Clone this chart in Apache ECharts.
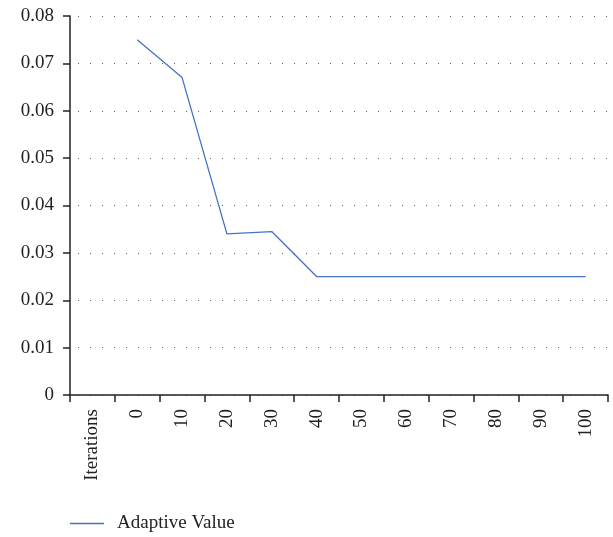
<!DOCTYPE html>
<html>
<head>
<meta charset="utf-8">
<script src="https://cdn.jsdelivr.net/npm/echarts@6/dist/echarts.min.js"></script>
<style>
  html, body { margin: 0; padding: 0; background: #fff; }
  #chart { width: 613px; height: 537px; }
</style>
</head>
<body>
<div id="chart"></div>
<script>
const categories = ['Iterations', '0', '10', '20', '30', '40', '50', '60', '70', '80', '90', '100'];
const adaptiveValue = [null, 0.075, 0.067, 0.034, 0.0345, 0.025, 0.025, 0.025, 0.025, 0.025, 0.025, 0.025];

const font = 'Liberation Serif';
const chart = echarts.init(document.getElementById('chart'), null, { renderer: 'canvas' });
const option = {
  animation: false,
  grid: { left: 70, right: 5, top: 16, bottom: 142, containLabel: false },
  legend: {
    left: 65,
    top: 509,
    icon: 'rect',
    itemWidth: 34,
    itemHeight: 1.5,
    itemGap: 10,
    textStyle: { fontFamily: font, fontSize: 19, color: '#222', padding: [0, 0, 0, 8] },
    data: ['Adaptive Value']
  },
  xAxis: {
    type: 'category',
    data: categories,
    boundaryGap: true,
    axisLine: { lineStyle: { color: '#222', width: 1.5 } },
    axisTick: { show: true, length: 7, lineStyle: { color: '#222', width: 1.5 } },
    axisLabel: {
      rotate: 90,
      margin: 14,
      fontFamily: font,
      fontSize: 19,
      color: '#222',
      interval: 0
    }
  },
  yAxis: {
    type: 'value',
    min: 0,
    max: 0.08,
    interval: 0.01,
    axisLine: { show: true, lineStyle: { color: '#222', width: 1.5 } },
    axisTick: { show: true, length: 7, lineStyle: { color: '#222', width: 1.5 } },
    axisLabel: {
      margin: 16,
      fontFamily: font,
      fontSize: 19,
      color: '#222',
      formatter: (v) => v === 0 ? '0' : v.toFixed(2)
    },
    splitLine: {
      show: true,
      lineStyle: { color: '#666', width: 1, type: [1, 11], dashOffset: -8 }
    }
  },
  series: [
    {
      name: 'Adaptive Value',
      type: 'line',
      data: adaptiveValue,
      symbol: 'none',
      connectNulls: false,
      lineStyle: { color: '#4472C4', width: 1.3 },
      itemStyle: { color: '#4472C4' }
    }
  ]
};
chart.setOption(option);
</script>
</body>
</html>
